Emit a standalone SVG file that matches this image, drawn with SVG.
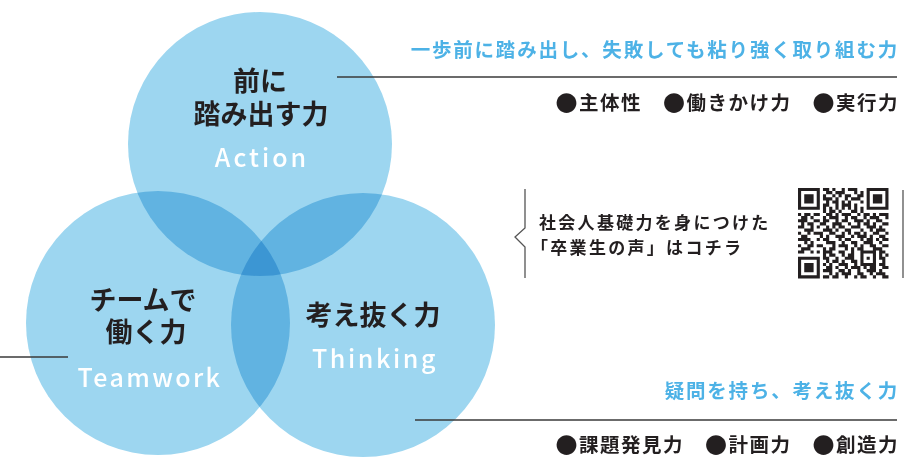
<svg xmlns="http://www.w3.org/2000/svg" width="909" height="459" viewBox="0 0 909 459">
<style>
.c{fill:#9dd6f0;mix-blend-mode:multiply}
.jp{font-family:"Noto Sans CJK JP","Noto Sans",sans-serif;font-weight:700;fill:#231f20}
.lab{font-size:27px;text-anchor:middle}
.en{font-family:"Noto Sans CJK JP","Noto Sans",sans-serif;font-weight:500;font-size:25px;fill:#ffffff;text-anchor:middle;letter-spacing:3px}
.blue{font-family:"Noto Sans CJK JP","Noto Sans",sans-serif;font-weight:700;font-size:19.5px;fill:#4db2e6;text-anchor:end;letter-spacing:1.8px}
.blk{font-size:19.5px;text-anchor:end;letter-spacing:1.5px}
.dot{font-size:22px}
.qt{font-size:17px;letter-spacing:2.3px}
.ln{stroke:#3a3a3a;stroke-width:1.4;fill:none}
</style>
<defs>
<path id="finder" d="M0 0h7v7h-7z M1 1v5h5v-5z M2 2h3v3h-3z" fill-rule="evenodd"/>
</defs>
<rect width="909" height="459" fill="#ffffff"/>
<g style="isolation:isolate">
<g id="node-action"><circle class="c" cx="260" cy="144" r="132"/></g>
<g id="node-teamwork"><circle class="c" cx="158" cy="323" r="132"/></g>
<g id="node-thinking"><circle class="c" cx="363" cy="325" r="132"/></g>
</g>
<g id="labels-action">
<text class="jp lab" x="260" y="91">前に</text>
<text class="jp lab" x="261" y="124">踏み出す力</text>
<text class="en" x="262" y="167">Action</text>
</g>
<g id="labels-teamwork">
<text class="jp lab" x="143" y="310">チームで</text>
<text class="jp lab" x="146" y="342">働く力</text>
<text class="en" x="150" y="387" style="letter-spacing:2.4px">Teamwork</text>
</g>
<g id="labels-thinking">
<text class="jp lab" x="373" y="325">考え抜く力</text>
<text class="en" x="375" y="368" style="letter-spacing:2.6px">Thinking</text>
</g>
<g id="connectors">
<line class="ln" x1="337" y1="77" x2="897" y2="77"/>
<line class="ln" x1="0" y1="357" x2="68" y2="357"/>
<line class="ln" x1="415" y1="420" x2="897" y2="420"/>
</g>
<g id="desc-action">
<text class="blue" x="899" y="57">一歩前に踏み出し、失敗しても粘り強く取り組む力</text>
<text class="jp blk" x="899" y="110"><tspan class="dot" dy="1">●</tspan><tspan dy="-1">主体性　</tspan><tspan class="dot" dy="1">●</tspan><tspan dy="-1">働きかけ力　</tspan><tspan class="dot" dy="1">●</tspan><tspan dy="-1">実行力</tspan></text>
</g>
<g id="desc-thinking">
<text class="blue" x="899" y="398">疑問を持ち、考え抜く力</text>
<text class="jp blk" x="899" y="452"><tspan class="dot" dy="1">●</tspan><tspan dy="-1">課題発見力　</tspan><tspan class="dot" dy="1">●</tspan><tspan dy="-1">計画力　</tspan><tspan class="dot" dy="1">●</tspan><tspan dy="-1">創造力</tspan></text>
</g>
<g id="qr-block">
<polyline points="525,189 525,228 515,237 525,247 525,278" fill="none" stroke="#555" stroke-width="1.3"/>
<line x1="903" y1="190" x2="903" y2="278" stroke="#555" stroke-width="1.3"/>
<text class="jp qt" x="539" y="229">社会人基礎力を身につけた</text>
<text class="jp qt" x="531" y="254">「卒業生の声」はコチラ</text>
<g id="qr" transform="translate(798,188) scale(3.12)" fill="#231f20">
<use href="#finder"/>
<use href="#finder" x="22"/>
<use href="#finder" y="22"/>
<path d="M8 0h2v1h-2z M11 0h1v1h-1z M14 0h1v1h-1z M16 0h3v1h-3z
M9 1h2v1h-2z M12 1h3v1h-3z M18 1h1v1h-1z M20 1h1v1h-1z
M8 2h1v1h-1z M11 2h1v1h-1z M13 2h1v1h-1z M15 2h2v1h-2z M19 2h2v1h-2z
M8 3h3v1h-3z M12 3h1v1h-1z M15 3h1v1h-1z M17 3h3v1h-3z
M9 4h1v1h-1z M11 4h2v1h-2z M14 4h1v1h-1z M16 4h1v1h-1z M20 4h1v1h-1z
M8 5h2v1h-2z M12 5h1v1h-1z M14 5h3v1h-3z M18 5h1v1h-1z
M8 6h1v1h-1z M10 6h1v1h-1z M12 6h1v1h-1z M14 6h1v1h-1z M16 6h1v1h-1z M18 6h1v1h-1z M20 6h1v1h-1z
M8 7h1v1h-1z M10 7h2v1h-2z M13 7h1v1h-1z M17 7h2v1h-2z M20 7h1v1h-1z
M0 8h1v1h-1z M2 8h2v1h-2z M5 8h2v1h-2z M9 8h2v1h-2z M12 8h1v1h-1z M14 8h3v1h-3z M19 8h1v1h-1z M21 8h2v1h-2z M24 8h1v1h-1z M26 8h3v1h-3z
M1 9h2v1h-2z M4 9h1v1h-1z M8 9h1v1h-1z M10 9h3v1h-3z M15 9h1v1h-1z M17 9h2v1h-2z M21 9h1v1h-1z M23 9h3v1h-3z M28 9h1v1h-1z
M0 10h3v1h-3z M5 10h2v1h-2z M8 10h2v1h-2z M12 10h1v1h-1z M14 10h2v1h-2z M18 10h3v1h-3z M22 10h1v1h-1z M25 10h2v1h-2z
M1 11h1v1h-1z M3 11h2v1h-2z M7 11h2v1h-2z M11 11h3v1h-3z M16 11h1v1h-1z M19 11h1v1h-1z M21 11h2v1h-2z M24 11h1v1h-1z M27 11h2v1h-2z
M0 12h2v1h-2z M4 12h1v1h-1z M6 12h1v1h-1z M9 12h1v1h-1z M11 12h1v1h-1z M13 12h2v1h-2z M17 12h3v1h-3z M22 12h3v1h-3z M26 12h1v1h-1z
M2 13h3v1h-3z M8 13h3v1h-3z M12 13h1v1h-1z M15 13h2v1h-2z M20 13h1v1h-1z M23 13h1v1h-1z M25 13h3v1h-3z
M0 14h1v1h-1z M3 14h1v1h-1z M5 14h3v1h-3z M10 14h2v1h-2z M14 14h1v1h-1z M16 14h1v1h-1z M18 14h2v1h-2z M21 14h1v1h-1z M24 14h2v1h-2z M28 14h1v1h-1z
M1 15h2v1h-2z M7 15h1v1h-1z M9 15h1v1h-1z M12 15h3v1h-3z M17 15h1v1h-1z M19 15h3v1h-3z M23 15h1v1h-1z M26 15h2v1h-2z
M0 16h4v1h-4z M6 16h1v1h-1z M8 16h2v1h-2z M13 16h1v1h-1z M15 16h2v1h-2z M20 16h1v1h-1z M22 16h2v1h-2z M25 16h1v1h-1z M27 16h2v1h-2z
M2 17h1v1h-1z M4 17h1v1h-1z M9 17h3v1h-3z M14 17h1v1h-1z M17 17h2v1h-2z M21 17h3v1h-3z M26 17h1v1h-1z
M0 18h1v1h-1z M3 18h2v1h-2z M6 18h2v1h-2z M11 18h1v1h-1z M13 18h3v1h-3z M18 18h1v1h-1z M20 18h1v1h-1z M23 18h2v1h-2z M27 18h2v1h-2z
M1 19h3v1h-3z M8 19h1v1h-1z M10 19h2v1h-2z M15 19h1v1h-1z M17 19h1v1h-1z M19 19h2v1h-2z M24 19h3v1h-3z
M0 20h2v1h-2z M4 20h1v1h-1z M6 20h1v1h-1z M8 20h3v1h-3z M13 20h2v1h-2z M17 20h1v1h-1z M20 20h5v1h-5z M26 20h2v1h-2z
M8 21h1v1h-1z M10 21h2v1h-2z M14 21h1v1h-1z M16 21h2v1h-2z M20 21h1v1h-1z M24 21h1v1h-1z M26 21h1v1h-1z M28 21h1v1h-1z
M8 22h2v1h-2z M12 22h1v1h-1z M15 22h3v1h-3z M20 22h1v1h-1z M22 22h1v1h-1z M24 22h1v1h-1z M26 22h2v1h-2z
M9 23h1v1h-1z M11 23h2v1h-2z M14 23h1v1h-1z M17 23h2v1h-2z M20 23h1v1h-1z M24 23h1v1h-1z M27 23h1v1h-1z
M8 24h1v1h-1z M10 24h1v1h-1z M13 24h3v1h-3z M18 24h1v1h-1z M20 24h5v1h-5z M26 24h2v1h-2z
M9 25h2v1h-2z M12 25h1v1h-1z M15 25h1v1h-1z M17 25h3v1h-3z M21 25h1v1h-1z M23 25h2v1h-2z M27 25h2v1h-2z
M8 26h3v1h-3z M13 26h2v1h-2z M16 26h1v1h-1z M19 26h1v1h-1z M22 26h3v1h-3z M26 26h1v1h-1z
M10 27h1v1h-1z M12 27h1v1h-1z M14 27h3v1h-3z M19 27h2v1h-2z M23 27h1v1h-1z M25 27h3v1h-3z
M8 28h2v1h-2z M11 28h2v1h-2z M15 28h1v1h-1z M18 28h1v1h-1z M20 28h2v1h-2z M24 28h1v1h-1z M27 28h2v1h-2z"/>
</g>
</g>
</svg>
